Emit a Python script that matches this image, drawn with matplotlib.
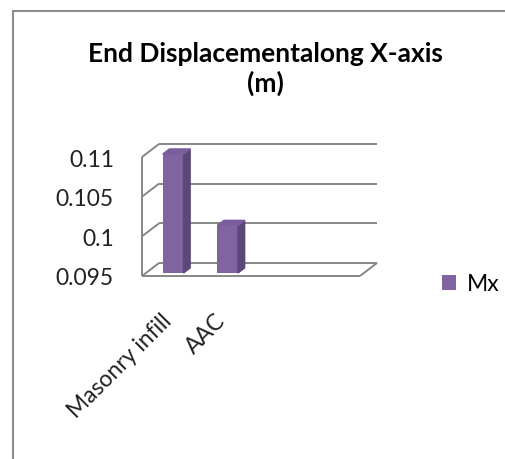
import matplotlib

matplotlib.use("Agg")
import matplotlib.pyplot as plt
from matplotlib.patches import Polygon
from matplotlib.lines import Line2D
import numpy as np

plt.rcParams['font.family'] = ['Lato', 'DejaVu Sans']

categories = ['Masonry infill', 'AAC']
mx_values = [0.11, 0.101]
y_ticks = [0.095, 0.1, 0.105, 0.11]
y_labels = ['0.095', '0.1', '0.105', '0.11']
title_lines = ['End Displacementalong X-axis', '(m)']

W, H = 505, 460
fig = plt.figure(figsize=(W / 100, H / 100), dpi=100)

# front plane of the 3d box, in pixels
left, bottom, width, height = 142, 277, 218, 119
ax = fig.add_axes([left / W, 1 - bottom / H, width / W, height / H])
xmin, xmax = -0.5, 3.5
ymin, ymax = y_ticks[0], y_ticks[-1]
ax.set_xlim(xmin, xmax)
ax.set_ylim(ymin, ymax)
ax.axis('off')

# depth offset (pixels) turned into data units
px_x = (xmax - xmin) / width
px_y = (ymax - ymin) / height
ddx = 17 * px_x
ddy = 13 * px_y

grid = '#868686'
kw = dict(color=grid, lw=1.4, clip_on=False, solid_capstyle='butt')

# back wall gridlines and left wall diagonals
for v in y_ticks:
    ax.plot([xmin + ddx, xmax + ddx], [v + ddy, v + ddy], **kw)
    ax.plot([xmin, xmin + ddx], [v, v + ddy], **kw)
# left front edge
ax.plot([xmin, xmin], [ymin, ymax], **kw)
# floor front and right edges
ax.plot([xmin, xmax], [ymin, ymin], **kw)
ax.plot([xmax, xmax + ddx], [ymin, ymin + ddy], **kw)

# 3d columns
front_c, side_c, top_c = '#8064A2', '#5B4778', '#7A5E9C'
f1, f2 = 0.23, 0.62
bw = 0.38
x = np.arange(len(categories))
bars = ax.bar(x + f1 * ddx, [v - ymin for v in mx_values], bottom=ymin + f1 * ddy,
              width=bw, color=front_c, clip_on=False, zorder=3)
for xi, v in zip(x, mx_values):
    xl = xi + f1 * ddx - bw / 2
    xr = xl + bw
    yb = ymin + f1 * ddy
    yt = v + f1 * ddy
    sx, sy = (f2 - f1) * ddx, (f2 - f1) * ddy
    ax.add_patch(Polygon([(xr, yb), (xr + sx, yb + sy), (xr + sx, yt + sy), (xr, yt)],
                         closed=True, color=side_c, clip_on=False, zorder=3))
    ax.add_patch(Polygon([(xl, yt), (xr, yt), (xr + sx, yt + sy), (xl + sx, yt + sy)],
                         closed=True, color=top_c, clip_on=False, zorder=3))

fs = 16.5
# value labels on the front left edge
for v, lab in zip(y_ticks, y_labels):
    ax.text(xmin - 28 * px_x, v - 2 * px_y, lab, ha='right', va='center',
            fontsize=fs, color='#222222')

# category labels
for xi, lab in zip(x, categories):
    ax.text(xi + 6 * px_x, ymin - 33 * px_y, lab, ha='right', va='top', rotation=45,
            fontsize=fs, color='#222222')

for ty, line in zip([62, 92], title_lines):
    fig.text(265 / W, 1 - ty / H, line, ha='center', va='baseline', fontsize=19,
             fontweight='bold', color='black')

fig.legend(handles=[bars], labels=['Mx'], loc='center left',
           bbox_to_anchor=(431 / W, 1 - 285 / H), frameon=False, fontsize=fs,
           handlelength=0.6, handleheight=0.6, handletextpad=0.45, borderpad=0)

# outer chart border, cut by the image edge
fig.add_artist(Line2D([13 / W, 13 / W], [0, 1 - 12 / H], color='#8c8c8c', lw=1.5))
fig.add_artist(Line2D([13 / W, 1], [1 - 12 / H, 1 - 12 / H], color='#8c8c8c', lw=1.5))

fig.savefig('out.png', dpi=100)
